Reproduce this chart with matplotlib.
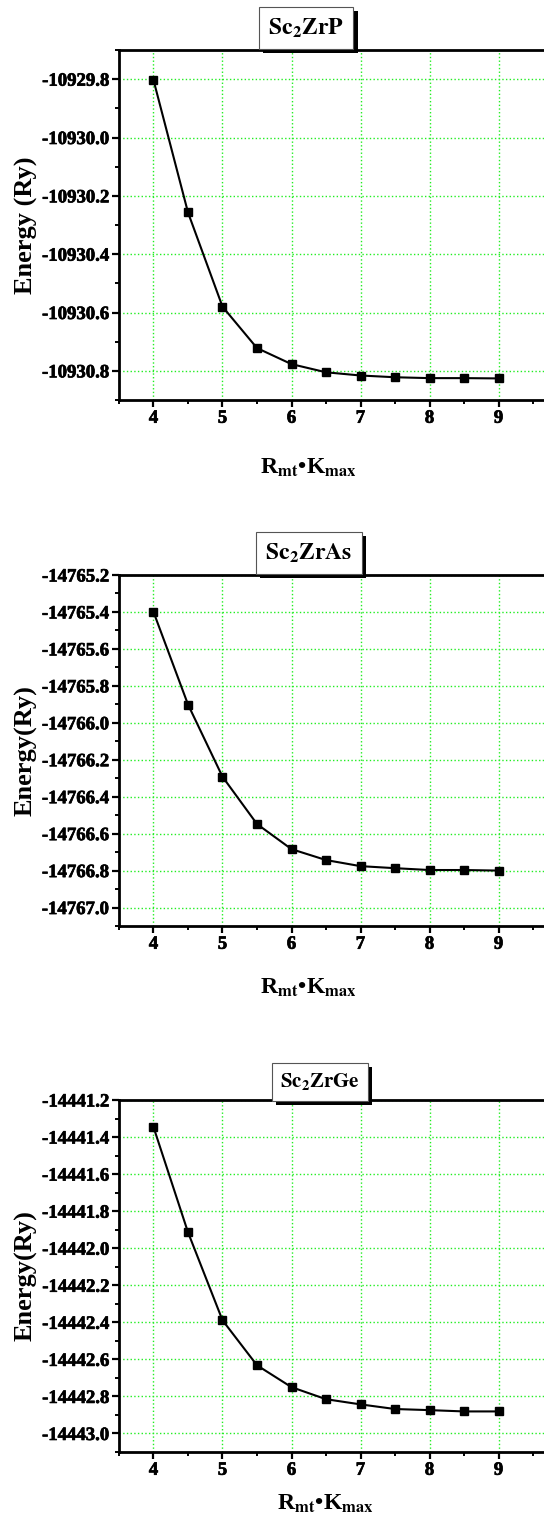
import matplotlib
matplotlib.use('Agg')
import matplotlib.pyplot as plt
import matplotlib.patheffects as pe
from matplotlib.ticker import MultipleLocator, FormatStrFormatter

plt.rcParams['font.family'] = 'Liberation Serif'
plt.rcParams['font.weight'] = 'bold'
plt.rcParams['mathtext.fontset'] = 'stix'

rk = [4, 4.5, 5, 5.5, 6, 6.5, 7, 7.5, 8, 8.5, 9]

e_zrp = [-10929.803, -10930.257, -10930.580, -10930.722, -10930.777, -10930.805,
         -10930.816, -10930.822, -10930.825, -10930.825, -10930.826]
e_zras = [-14765.400, -14765.901, -14766.292, -14766.548, -14766.684, -14766.743,
          -14766.776, -14766.787, -14766.797, -14766.797, -14766.800]
e_zrge = [-14441.346, -14441.914, -14442.389, -14442.632, -14442.750, -14442.815,
          -14442.843, -14442.868, -14442.874, -14442.881, -14442.881]

titles = [r'$\mathbf{Sc_2ZrP}$', r'$\mathbf{Sc_2ZrAs}$', r'$\mathbf{Sc_2ZrGe}$']
ylabels = ['Energy (Ry)', 'Energy(Ry)', 'Energy(Ry)']
series = [e_zrp, e_zras, e_zrge]
ylims = [(-10930.9, -10929.7), (-14767.1, -14765.2), (-14443.1, -14441.2)]
xlabel = r'R$_{\mathbf{mt}}$•K$_{\mathbf{max}}$'

W, H = 544, 1521
fig = plt.figure(figsize=(W / 100, H / 100), dpi=100)

# pixel layout: (top, bottom) of each panel, title box centre, xlabel centre
tops = [50, 575, 1100]
bottoms = [400, 926, 1452]
title_pos = [(306, 28, 17), (309, 553, 17), (320, 1082, 15)]
xlab_pos = [(308, 468), (308, 988), (325, 1504)]

left, right = 119, 560
x0 = 3.5
x1 = x0 + (right - left) / 69.0

heavy = [pe.withStroke(linewidth=0.5, foreground='black')]

axes = []
for i in range(3):
    ax = fig.add_axes([left / W, 1 - bottoms[i] / H, (right - left) / W,
                       (bottoms[i] - tops[i]) / H])
    axes.append(ax)
    ax.plot(rk, series[i], color='black', lw=1.5, marker='s', ms=6,
            markerfacecolor='black', markeredgecolor='black', zorder=3)
    ax.set_xlim(x0, x1)
    ax.set_ylim(*ylims[i])
    ax.xaxis.set_major_locator(MultipleLocator(1))
    ax.xaxis.set_minor_locator(MultipleLocator(0.5))
    ax.yaxis.set_major_locator(MultipleLocator(0.2))
    ax.yaxis.set_minor_locator(MultipleLocator(0.1))
    ax.yaxis.set_major_formatter(FormatStrFormatter('%.1f'))
    ax.grid(True, which='major', color='#22ee22', linestyle=':', lw=1.0)
    ax.tick_params(which='major', direction='out', length=5, width=1.6,
                   labelsize=13.5, pad=2)
    ax.tick_params(which='minor', direction='out', length=3, width=1.4)
    ax.tick_params(top=False, right=False)
    for s in ['left', 'bottom', 'top']:
        ax.spines[s].set_linewidth(2)
    ax.spines['right'].set_visible(False)
    ax.set_ylabel(ylabels[i], fontsize=19, fontweight='bold')
    ax.yaxis.set_label_coords(-(119 - 38) / (right - left), 0.5)

    tx, ty, fs = title_pos[i]
    t = fig.text(tx / W, 1 - ty / H, titles[i], fontsize=fs, ha='center', va='center',
                 bbox=dict(boxstyle='square,pad=0.4', fc='white', ec='#555555', lw=0.8),
                 zorder=10)
    t.get_bbox_patch().set_path_effects([
        pe.SimplePatchShadow(offset=(3, -3), shadow_rgbFace='black', alpha=1.0),
        pe.Normal()])

    lx, ly = xlab_pos[i]
    fig.text(lx / W, 1 - ly / H, xlabel, fontsize=17, fontweight='bold',
             ha='center', va='center')

fig.canvas.draw()
for ax in axes:
    for lab in ax.get_xticklabels() + ax.get_yticklabels():
        lab.set_fontweight('bold')
        lab.set_path_effects(heavy)

fig.savefig('out.png', dpi=100)
